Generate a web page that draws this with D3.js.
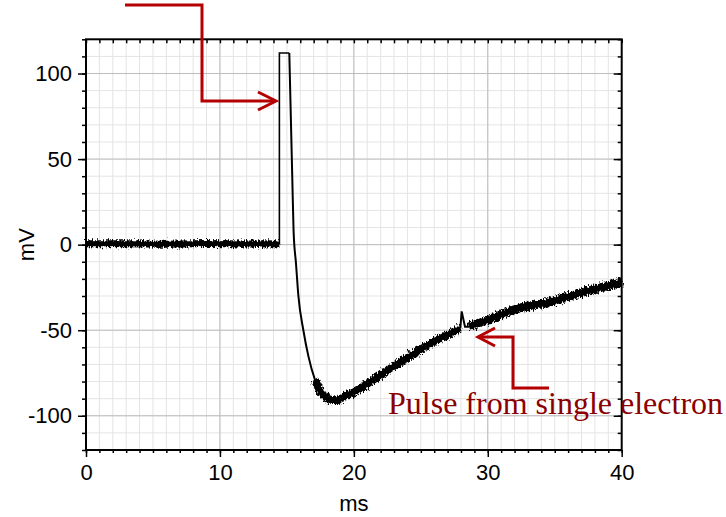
<!DOCTYPE html>
<html>
<head>
<meta charset="utf-8">
<script src="https://cdn.jsdelivr.net/npm/d3@7"></script>
<style>
  body { margin: 0; background: #fff; }
  svg { display: block; font-family: "Liberation Sans", Arial, sans-serif; }
</style>
</head>
<body>
<svg id="chart" width="726" height="517"></svg>
<script>
// values (ms, mV)
const baseTime = [0, 3, 6, 9, 12, 14.44];
const baseVolt = [0.5, 0.5, 0.3, 0.6, 0.4, 0.5];

const pulseTime = [14.44, 14.44, 15.18];
const pulseVolt = [0.5, 112, 112];

const decayTime = [15.18, 15.4, 15.5, 15.68, 15.86, 16.23, 16.6, 17.1, 17.7, 18.5, 19.5, 20.7, 22, 24, 26.4, 27.95];
const decayVolt = [112, 40, 8, -11, -30, -50, -65, -79, -88, -91, -88, -83, -76, -66, -55, -49];

const spikeTime = [27.95, 28.05, 28.3, 28.6, 30, 32.4, 34.4, 37, 40];
const spikeVolt = [-49, -39, -48, -48, -44, -37, -34, -28, -22];

const xTicks = [0, 10, 20, 30, 40];
const yTicks = [-100, -50, 0, 50, 100];

const width = 726, height = 517;
const margin = { top: 39.3, right: 104.3, bottom: 67, left: 86 };
const innerW = width - margin.left - margin.right;
const innerH = height - margin.top - margin.bottom;

const svg = d3.select('#chart');

// scope noise drawn as a rendering effect on the stroke
const defs = svg.append('defs');
const filt = defs.append('filter').attr('id', 'fuzz')
    .attr('filterUnits', 'userSpaceOnUse')
    .attr('x', -20).attr('y', -20).attr('width', 700).attr('height', 500);
filt.append('feTurbulence').attr('type', 'fractalNoise')
    .attr('baseFrequency', '0.8 0.3').attr('numOctaves', 2).attr('seed', 3).attr('result', 'n');
filt.append('feDisplacementMap').attr('in', 'SourceGraphic').attr('in2', 'n')
    .attr('scale', 8).attr('xChannelSelector', 'R').attr('yChannelSelector', 'G');

const g = svg.append('g').attr('transform', `translate(${margin.left},${margin.top})`);

const x = d3.scaleLinear().domain([0, 40]).range([0, innerW]);
const y = d3.scaleLinear().domain([-120, 120]).range([innerH, 0]);

// minor grid
g.append('g').selectAll('line').data(d3.range(1, 40)).join('line')
    .attr('x1', d => x(d)).attr('x2', d => x(d)).attr('y1', 0).attr('y2', innerH)
    .attr('stroke', '#e4e4e4').attr('stroke-width', 1);
g.append('g').selectAll('line').data(d3.range(-110, 120, 10)).join('line')
    .attr('x1', 0).attr('x2', innerW).attr('y1', d => y(d)).attr('y2', d => y(d))
    .attr('stroke', '#e4e4e4').attr('stroke-width', 1);
// major grid
g.append('g').selectAll('line').data(xTicks.slice(1, -1)).join('line')
    .attr('x1', d => x(d)).attr('x2', d => x(d)).attr('y1', 0).attr('y2', innerH)
    .attr('stroke', '#bdbdbd').attr('stroke-width', 1);
g.append('g').selectAll('line').data(yTicks).join('line')
    .attr('x1', 0).attr('x2', innerW).attr('y1', d => y(d)).attr('y2', d => y(d))
    .attr('stroke', '#bdbdbd').attr('stroke-width', 1);

// trace
const zip = (ts, vs) => ts.map((t, i) => [t, vs[i]]);
const lineLin = d3.line().x(d => x(d[0])).y(d => y(d[1]));
const lineMono = d3.line().x(d => x(d[0])).y(d => y(d[1])).curve(d3.curveMonotoneX);

const noisy = (pts, line, w) => {
  g.append('path').datum(pts).attr('d', line).attr('fill', 'none')
      .attr('stroke', '#000').attr('stroke-width', w - 3);
  g.append('path').datum(pts).attr('d', line).attr('fill', 'none')
      .attr('stroke', '#000').attr('stroke-width', w).attr('filter', 'url(#fuzz)');
};

noisy(zip(baseTime, baseVolt), lineLin, 7);
g.append('path').datum(zip(pulseTime, pulseVolt))
    .attr('d', lineLin).attr('fill', 'none').attr('stroke', '#000').attr('stroke-width', 1.6);
g.append('path').datum(zip(decayTime, decayVolt))
    .attr('d', lineMono).attr('fill', 'none').attr('stroke', '#000').attr('stroke-width', 2);
// noisy part of the recovery
noisy(zip(decayTime, decayVolt).filter(d => d[0] >= 17.1), lineMono, 8);
noisy(zip(spikeTime, spikeVolt).filter(d => d[0] >= 28.6), lineMono, 8.5);
g.append('path').datum(zip(spikeTime, spikeVolt).slice(0, 4))
    .attr('d', lineLin).attr('fill', 'none').attr('stroke', '#000').attr('stroke-width', 2);

// frame and ticks
const axisStyle = sel => {
  sel.select('.domain').remove();
  sel.selectAll('line').attr('stroke', '#000').attr('stroke-width', 1.5);
  sel.selectAll('text').attr('font-size', 22).attr('fill', '#000');
};
const fmt = d => String(d).replace('\u2212', '-');

g.append('g').attr('transform', `translate(0,${innerH})`)
    .call(d3.axisBottom(x).tickValues(d3.range(0, 41, 1)).tickSize(3).tickFormat(''))
    .call(axisStyle);
g.append('g').attr('transform', `translate(0,${innerH})`)
    .call(d3.axisBottom(x).tickValues(xTicks).tickSize(7).tickPadding(7).tickFormat(fmt))
    .call(axisStyle);
g.append('g')
    .call(d3.axisLeft(y).tickValues(d3.range(-120, 121, 10)).tickSize(4).tickFormat(''))
    .call(axisStyle);
g.append('g')
    .call(d3.axisLeft(y).tickValues(yTicks).tickSize(8).tickPadding(6).tickFormat(fmt))
    .call(axisStyle);
g.append('g')
    .call(d3.axisTop(x).tickValues(d3.range(0, 41, 1)).tickSize(-4).tickFormat(''))
    .call(axisStyle);
g.append('g').attr('transform', `translate(${innerW},0)`)
    .call(d3.axisRight(y).tickValues(d3.range(-120, 121, 10)).tickSize(-4).tickFormat(''))
    .call(axisStyle);
g.append('g').attr('transform', `translate(${innerW},0)`)
    .call(d3.axisRight(y).tickValues(yTicks).tickSize(-8).tickFormat(''))
    .call(axisStyle);

g.append('rect').attr('width', innerW).attr('height', innerH)
    .attr('fill', 'none').attr('stroke', '#000').attr('stroke-width', 2);

// axis titles
svg.append('text').attr('x', margin.left + x(20)).attr('y', 511)
    .attr('text-anchor', 'middle').attr('font-size', 22).text('ms');
svg.append('text').attr('transform', `translate(34,${margin.top + y(0)}) rotate(-90)`)
    .attr('text-anchor', 'middle').attr('font-size', 22).text('mV');

// annotations
const red = '#b40000';
const arrow = (pts) => {
  svg.append('path').attr('d', d3.line()(pts))
      .attr('fill', 'none').attr('stroke', red).attr('stroke-width', 3);
};
// top arrow pointing at the injected pulse
arrow([[125, 5], [202, 5], [202, 101], [275, 101]]);
arrow([[258, 92], [276, 101], [258, 110]]);
// arrow to the single-electron pulse
arrow([[549, 388], [513, 388], [513, 337], [478, 337]]);
arrow([[495, 328], [478, 337], [495, 346]]);

svg.append('text').attr('x', 388).attr('y', 414)
    .attr('font-family', '"Liberation Serif", "Times New Roman", serif')
    .attr('font-size', 32).attr('fill', '#8a0000')
    .text('Pulse from single electron');
</script>
</body>
</html>
